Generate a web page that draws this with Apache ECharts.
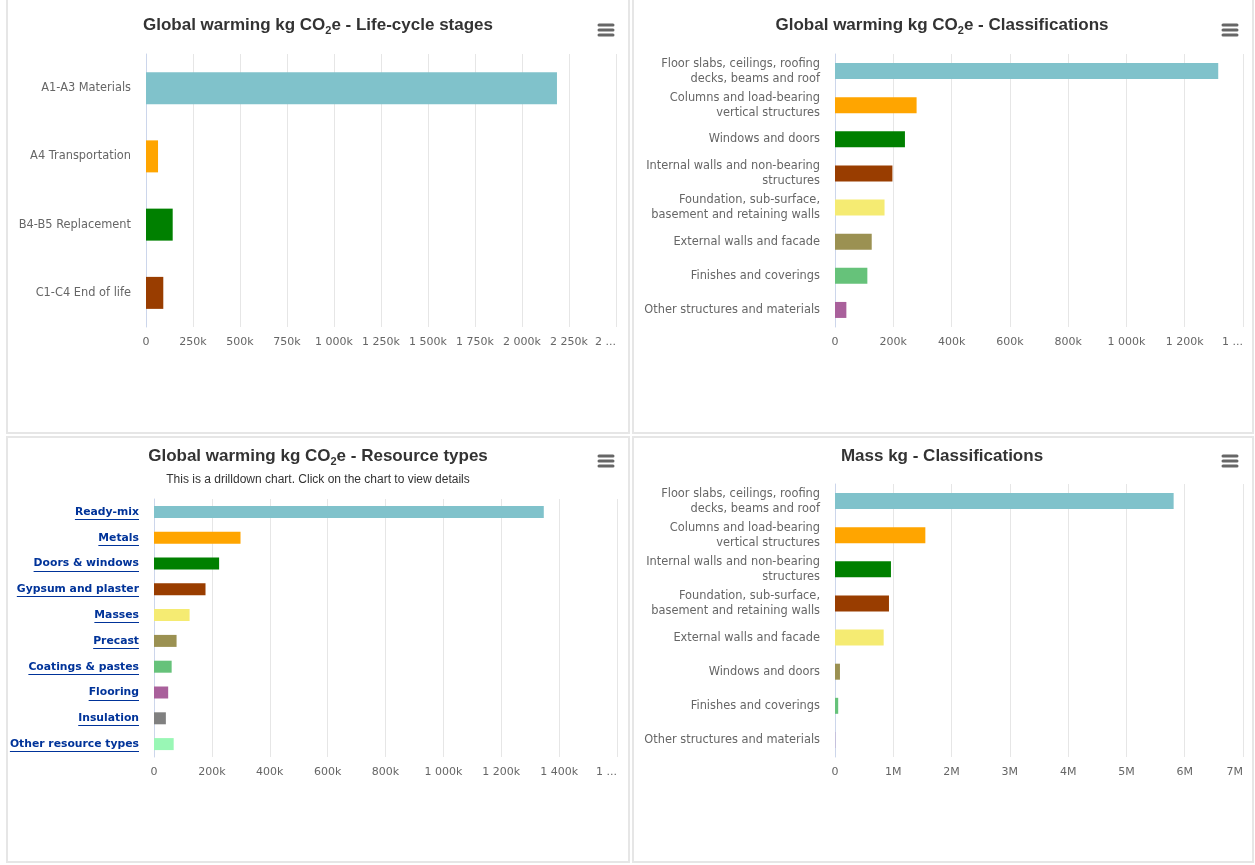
<!DOCTYPE html>
<html>
<head>
<meta charset="utf-8">
<title>Building LCA dashboard</title>
<script src="https://cdn.jsdelivr.net/npm/echarts@6/dist/echarts.min.js"></script>
<style>
  html, body { margin: 0; padding: 0; background: #ffffff; }
  #chart { width: 1255px; height: 865px; }
</style>
</head>
<body>
<div id="chart"></div>
<script>
// Shared series colours, applied per bar in category order
const palette = ['#80c2cb', '#ffa500', '#008000', '#993d00', '#f5eb72', '#9b9152',
                 '#66c27a', '#a9609b', '#808080', '#99f7b5'];

// Global warming by life-cycle stage (kg CO2e)
const lifeStages = ['A1-A3 Materials', 'A4 Transportation', 'B4-B5 Replacement', 'C1-C4 End of life'];
const lifeValues = [2186000, 64000, 142000, 92000];
const lifeTicks = ['0', '250k', '500k', '750k', '1 000k', '1 250k', '1 500k', '1 750k', '2 000k', '2 250k', '2 500k'];

// Global warming by building classification (kg CO2e)
const gwpClasses = [
  'Floor slabs, ceilings, roofing\ndecks, beams and roof',
  'Columns and load-bearing\nvertical structures',
  'Windows and doors',
  'Internal walls and non-bearing\nstructures',
  'Foundation, sub-surface,\nbasement and retaining walls',
  'External walls and facade',
  'Finishes and coverings',
  'Other structures and materials'
];
const gwpValues = [1315000, 280000, 240000, 197000, 170000, 126000, 111000, 39000];
const gwpTicks = ['0', '200k', '400k', '600k', '800k', '1 000k', '1 200k', '1 400k'];

// Global warming by resource type (kg CO2e), drilldown categories
const resourceTypes = ['Ready-mix', 'Metals', 'Doors & windows', 'Gypsum and plaster', 'Masses',
                       'Precast', 'Coatings & pastes', 'Flooring', 'Insulation', 'Other resource types'];
const resourceValues = [1347000, 299000, 225000, 178000, 123000, 78000, 61000, 49000, 41000, 68000];
const resourceTicks = ['0', '200k', '400k', '600k', '800k', '1 000k', '1 200k', '1 400k', '1 600k'];

// Mass by building classification (kg)
const massClasses = [
  'Floor slabs, ceilings, roofing\ndecks, beams and roof',
  'Columns and load-bearing\nvertical structures',
  'Internal walls and non-bearing\nstructures',
  'Foundation, sub-surface,\nbasement and retaining walls',
  'External walls and facade',
  'Windows and doors',
  'Finishes and coverings',
  'Other structures and materials'
];
const massValues = [5810000, 1550000, 960000, 926000, 835000, 85000, 55000, 3000];
const massTicks = ['0', '1M', '2M', '3M', '4M', '5M', '6M', '7M'];

const LABEL_FONT = '"DejaVu Sans", "Lucida Grande", sans-serif';
const TITLE_FONT = '"Liberation Sans", Helvetica, Arial, sans-serif';
const LINK_COLOR = '#003399';
const LINK_SIZE = 10.8;

// Panel layout: frame, title centre, plot rectangle, bar thickness
const panels = [
  { frame: [7, -2, 622, 435], cx: 318, ty: 14, grid: [146, 54, 470, 273], step: 250000, ticks: lifeTicks,
    cats: lifeStages, vals: lifeValues, bar: 32, truncateLast: true, link: false,
    title: ['Global warming kg CO', '2', 'e - Life-cycle stages'] },
  { frame: [633, -2, 620, 435], cx: 942, ty: 14, grid: [835, 54, 408, 273], step: 200000, ticks: gwpTicks,
    cats: gwpClasses, vals: gwpValues, bar: 16, truncateLast: true, link: false,
    title: ['Global warming kg CO', '2', 'e - Classifications'] },
  { frame: [7, 437, 622, 425], cx: 318, ty: 445, grid: [154, 499, 463, 258], step: 200000, ticks: resourceTicks,
    cats: resourceTypes, vals: resourceValues, bar: 12, truncateLast: true, link: true,
    title: ['Global warming kg CO', '2', 'e - Resource types'],
    subtitle: 'This is a drilldown chart. Click on the chart to view details' },
  { frame: [633, 437, 620, 425], cx: 942, ty: 445, grid: [835, 484, 408, 273], step: 1000000, ticks: massTicks,
    cats: massClasses, vals: massValues, bar: 16, truncateLast: false, link: false,
    title: ['Mass kg - Classifications'] }
];

const chart = echarts.init(document.getElementById('chart'), null, { renderer: 'canvas' });

const titleRich = {
  t: { fontFamily: TITLE_FONT, fontSize: 17, fontWeight: 'bold', color: '#333333', lineHeight: 22 },
  s: { fontFamily: TITLE_FONT, fontSize: 11, fontWeight: 'bold', color: '#333333', lineHeight: 13, verticalAlign: 'bottom' }
};

const titles = [];
const grids = [];
const xAxes = [];
const yAxes = [];
const series = [];
const graphics = [];

panels.forEach((p, i) => {
  const text = p.title.length === 3
    ? '{t|' + p.title[0] + '}{s|' + p.title[1] + '}{t|' + p.title[2] + '}'
    : '{t|' + p.title[0] + '}';
  titles.push({
    text: text, left: p.cx, top: p.ty, textAlign: 'center', padding: 0, itemGap: 5,
    textStyle: { rich: titleRich },
    subtext: p.subtitle || '',
    subtextStyle: { fontFamily: TITLE_FONT, fontSize: 12, color: '#333333', lineHeight: 20 }
  });

  grids.push({ left: p.grid[0], top: p.grid[1], width: p.grid[2], height: p.grid[3], containLabel: false });

  const maxVal = p.step * (p.ticks.length - 1);
  xAxes.push({
    type: 'value', gridIndex: i, min: 0, max: maxVal, interval: p.step,
    axisLine: { show: false }, axisTick: { show: false },
    splitLine: { show: true, lineStyle: { color: '#e6e6e6', width: 1 } },
    axisLabel: {
      color: '#666666', fontSize: 11, fontFamily: LABEL_FONT, margin: 10,
      alignMaxLabel: 'right',
      formatter: (v) => {
        const k = Math.round(v / p.step);
        const label = p.ticks[k];
        if (p.truncateLast && k === p.ticks.length - 1) return label.split(' ')[0] + ' ...';
        return label;
      }
    }
  });

  yAxes.push({
    type: 'category', gridIndex: i, data: p.cats, inverse: true,
    axisLine: { show: true, lineStyle: { color: '#ccd6eb', width: 1 } },
    axisTick: { show: false },
    splitLine: { show: false },
    axisLabel: {
      margin: 15, fontSize: p.link ? LINK_SIZE : 11.4, lineHeight: 15, fontFamily: LABEL_FONT,
      color: p.link ? LINK_COLOR : '#666666', fontWeight: p.link ? 'bold' : 'normal',
      align: 'right', interval: 0
    }
  });

  series.push({
    type: 'bar', xAxisIndex: i, yAxisIndex: i, data: p.vals, barWidth: p.bar,
    itemStyle: { color: (params) => palette[params.dataIndex % palette.length] },
    animation: false
  });

  graphics.push({
    id: 'frame' + i, type: 'rect', silent: true, z: -10,
    shape: { x: p.frame[0], y: p.frame[1], width: p.frame[2], height: p.frame[3] },
    style: { fill: '#ffffff', stroke: '#e6e6e6', lineWidth: 2 }
  });

  // Export menu button (three-bar icon) at the top right of each panel
  const mx = p.frame[0] + p.frame[2] - 30;
  const my = p.ty + 16;
  [-5, 0, 5].forEach((dy, j) => {
    graphics.push({
      id: 'menu' + i + '_' + j, type: 'line', silent: true,
      shape: { x1: mx, y1: my + dy, x2: mx + 14, y2: my + dy },
      style: { stroke: '#666666', lineWidth: 3, lineCap: 'round' }
    });
  });
});

chart.setOption({
  animation: false,
  title: titles,
  grid: grids,
  xAxis: xAxes,
  yAxis: yAxes,
  series: series,
  graphic: { elements: graphics }
});

// Underline the drilldown category labels, placed from the axis scales
const measureCtx = document.createElement('canvas').getContext('2d');
measureCtx.font = 'bold ' + LINK_SIZE + 'px ' + LABEL_FONT;
const underlines = [];
panels.forEach((p, i) => {
  if (!p.link) return;
  const axisX = chart.convertToPixel({ xAxisIndex: i }, 0);
  const right = axisX - 15;
  p.cats.forEach((c, k) => {
    const y = Math.round(chart.convertToPixel({ yAxisIndex: i }, c)) + 7.5;
    const w = measureCtx.measureText(c).width;
    underlines.push({
      id: 'ul' + i + '_' + k, type: 'line', silent: true,
      shape: { x1: right - w, y1: y, x2: right, y2: y },
      style: { stroke: LINK_COLOR, lineWidth: 1 }
    });
  });
});
chart.setOption({ graphic: { elements: graphics.concat(underlines) } });
</script>
</body>
</html>
